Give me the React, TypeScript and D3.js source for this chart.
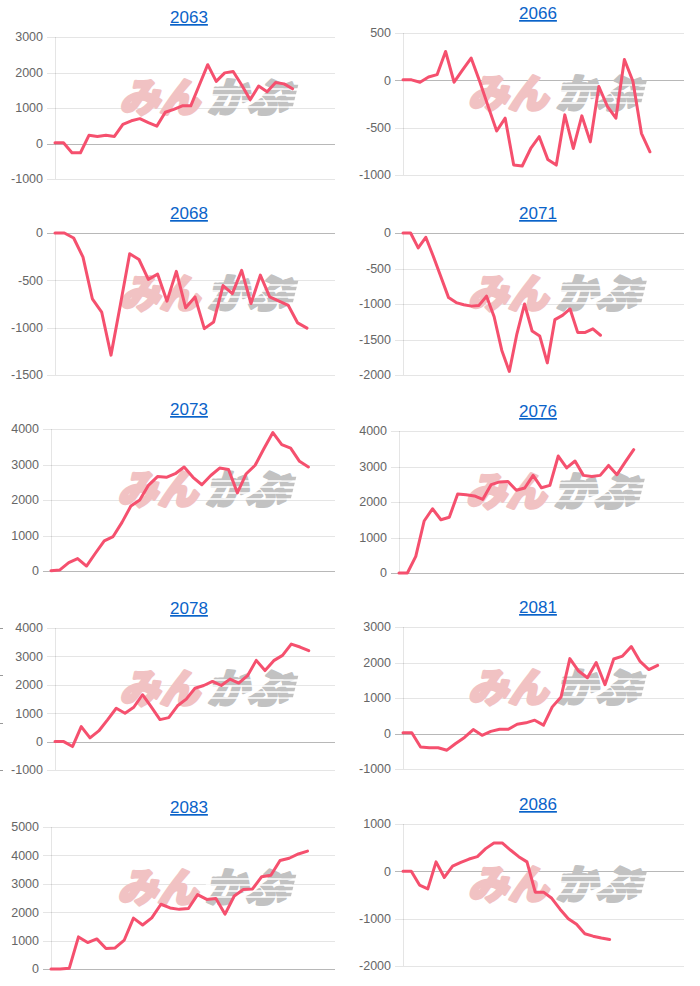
import React, { useMemo } from 'react';
import * as d3 from 'd3';

const TITLES = ['2063', '2066', '2068', '2071', '2073', '2076', '2078', '2081', '2083', '2086'];

const S2063 = [20, 20, -260, -260, 230, 200, 230, 200, 540, 640, 700, 590, 490, 880, 960, 1060, 1060, 1640, 2220, 1750, 1990, 2030, 1650, 1230, 1620, 1460, 1720, 1680, 1540];
const S2066 = [5, 5, -20, 35, 60, 305, -20, 110, 235, -10, -275, -535, -400, -895, -905, -720, -595, -835, -895, -365, -720, -375, -650, -65, -275, -400, 220, -10, -560, -755];
const S2068 = [0, 0, -53, -255, -695, -835, -1290, -760, -220, -280, -490, -435, -720, -405, -790, -675, -1010, -940, -555, -640, -395, -745, -445, -675, -720, -765, -950, -1005];
const S2071 = [0, 0, -210, -60, -330, -620, -910, -980, -1010, -1030, -1020, -890, -1180, -1650, -1950, -1420, -1000, -1380, -1450, -1830, -1220, -1160, -1070, -1400, -1400, -1350, -1440];
const S2073 = [10, 30, 235, 350, 140, 500, 850, 970, 1370, 1830, 2000, 2420, 2660, 2640, 2740, 2930, 2640, 2430, 2690, 2900, 2860, 2200, 2740, 2980, 3450, 3900, 3560, 3460, 3090, 2930];
const S2076 = [0, 0, 470, 1465, 1810, 1500, 1570, 2225, 2205, 2170, 2075, 2490, 2565, 2580, 2330, 2395, 2750, 2400, 2470, 3295, 2960, 3155, 2750, 2720, 2750, 3030, 2770, 3130, 3475];
const S2078 = [0, 0, -175, 530, 130, 375, 765, 1175, 1000, 1210, 1650, 1220, 775, 845, 1260, 1495, 1880, 1975, 2120, 1975, 2200, 2060, 2320, 2860, 2500, 2850, 3035, 3435, 3330, 3200];
const S2081 = [20, 20, -380, -400, -400, -470, -280, -110, 110, -50, 60, 120, 120, 260, 300, 375, 235, 750, 1030, 2110, 1760, 1570, 2000, 1375, 2100, 2180, 2450, 2030, 1800, 1920];
const S2083 = [0, 0, 30, 1130, 930, 1060, 720, 740, 1020, 1790, 1550, 1800, 2280, 2150, 2100, 2130, 2620, 2450, 2480, 1930, 2570, 2800, 2820, 3250, 3300, 3820, 3900, 4050, 4150];
const S2086 = [0, 0, -290, -370, 200, -130, 110, 190, 260, 310, 480, 600, 600, 450, 310, 200, -440, -440, -570, -800, -1000, -1120, -1320, -1370, -1410, -1440];

const SERIES = [S2063, S2066, S2068, S2071, S2073, S2076, S2078, S2081, S2083, S2086];

// number of x categories on each chart (only some carry data)
const LABEL_COUNTS = [34, 34, 31, 38, 33, 35, 33, 33, 32, 35];

const T2063 = [-1000, 0, 1000, 2000, 3000];
const T2066 = [-1000, -500, 0, 500];
const T2068 = [-1500, -1000, -500, 0];
const T2071 = [-2000, -1500, -1000, -500, 0];
const T2073 = [0, 1000, 2000, 3000, 4000];
const T2076 = [0, 1000, 2000, 3000, 4000];
const T2078 = [-1000, 0, 1000, 2000, 3000, 4000];
const T2081 = [-1000, 0, 1000, 2000, 3000];
const T2083 = [0, 1000, 2000, 3000, 4000, 5000];
const T2086 = [-2000, -1000, 0, 1000];

const TICKS = [T2063, T2066, T2068, T2071, T2073, T2076, T2078, T2081, T2083, T2086];

const W = 700;
const H = 986;
const FONT = '"Liberation Sans", Arial, Helvetica, sans-serif';
const LINE = '#f5506e';
const PLOT_H = 142;
const TOPS_LEFT = [37, 233, 429, 628, 827];
const TOPS_RIGHT = [33, 233, 431, 627, 824];
const COL_X = [12, 360];
const COL_RIGHT = [335, 684];
const TITLE_X = [189, 538];

let ctx: CanvasRenderingContext2D | null = null;
function textWidth(s: string) {
  if (!ctx) ctx = document.createElement('canvas').getContext('2d');
  if (!ctx) return s.length * 6.7;
  ctx.font = `12px ${FONT}`;
  return ctx.measureText(s).width;
}

function Watermark({ cx, cy }: { cx: number; cy: number }) {
  const x0 = cx - 86;
  return (
    <g transform={`translate(${x0},${cy}) skewX(-14)`} fontFamily='"Noto Sans CJK JP", sans-serif' fontWeight={900} fontSize={40}>
      <text x={2} y={14} fill="#f1c2c3" stroke="#f1c2c3" strokeWidth={3} strokeLinejoin="round">みん</text>
      <text x={90} y={14} fill="#c2c2c2" stroke="#c2c2c2" strokeWidth={3} strokeLinejoin="round">かぶ</text>
      {[-9, -3, 3, 9].map(d => (
        <line key={d} x1={86} x2={172} y1={d} y2={d} stroke="#fff" strokeWidth={1.3} />
      ))}
      {[-9, -3, 3, 9].map(d => (
        <rect key={'b' + d} x={160} y={d - 4.3} width={14} height={3.5} fill="#c2c2c2" />
      ))}
    </g>
  );
}

function Panel({ idx }: { idx: number }) {
  const col = idx % 2;
  const row = Math.floor(idx / 2);
  const top = col === 0 ? TOPS_LEFT[row] : TOPS_RIGHT[row];
  const bottom = top + PLOT_H;
  const ticks = TICKS[idx];
  const data = SERIES[idx];
  const maxW = d3.max(ticks, t => textWidth(String(t))) || 30;
  const left = Math.round(COL_X[col] + maxW + 12);
  const right = COL_RIGHT[col];

  const x = d3.scaleLinear().domain([0, LABEL_COUNTS[idx] - 1]).range([left, right]);
  const y = d3.scaleLinear().domain(d3.extent(ticks) as [number, number]).range([bottom, top]);
  const line = d3.line<number>().x((_, i) => x(i)).y(d => y(d));

  return (
    <g>
      <text x={TITLE_X[col]} y={top - 14} textAnchor="middle" fontSize={17} fill="#0a63c9" fontFamily={FONT} textDecoration="underline">
        {TITLES[idx]}
      </text>
      {ticks.map(t => (
        <g key={t}>
          <line x1={left - 8} x2={right} y1={Math.round(y(t)) + 0.5} y2={Math.round(y(t)) + 0.5}
            stroke={t === 0 ? 'rgba(0,0,0,0.28)' : 'rgba(0,0,0,0.1)'} />
          <text x={left - 12} y={y(t)} dy="0.35em" textAnchor="end" fontSize={12.5} fill="#666" fontFamily={FONT}>{t}</text>
        </g>
      ))}
      <line x1={left + 0.5} x2={left + 0.5} y1={top} y2={bottom} stroke="rgba(0,0,0,0.1)" />
      <Watermark cx={(left + right) / 2 + 12} cy={(top + bottom) / 2 - 10} />
      <path d={line(data) || ''} fill="none" stroke={LINE} strokeWidth={3} strokeLinejoin="round" strokeLinecap="round" />
      {idx === 6 && [0, 1, 2, 3].map(k => (
        <line key={'e' + k} x1={0} x2={3} y1={Math.round(top + (k * PLOT_H) / 3) + 0.5} y2={Math.round(top + (k * PLOT_H) / 3) + 0.5} stroke="#999" />
      ))}
    </g>
  );
}

export default function App() {
  const panels = useMemo(() => TITLES.map((_, i) => i), []);
  return (
    <svg width={W} height={H} style={{ position: 'absolute', left: 0, top: 0, background: '#fff' }}>
      {panels.map(i => <Panel key={i} idx={i} />)}
    </svg>
  );
}
